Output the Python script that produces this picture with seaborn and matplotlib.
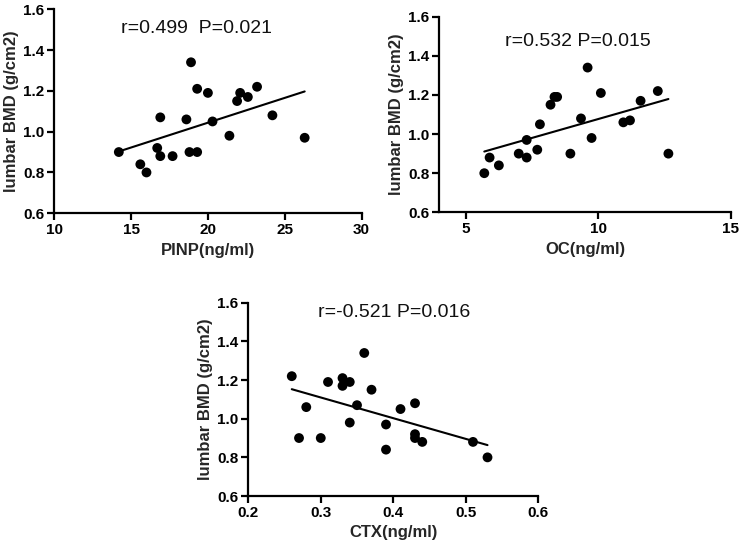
import pandas as pd
import seaborn as sns
from matplotlib import pyplot as plt

# values
pinp = [14.2, 15.6, 16.0, 16.7, 16.9, 16.9, 17.7, 18.6, 18.8, 18.9, 19.3,
        19.3, 20.0, 20.3, 21.4, 21.9, 22.1, 22.6, 23.2, 24.2, 26.3]
bmd_pinp = [0.90, 0.84, 0.80, 0.92, 0.88, 1.07, 0.88, 1.06, 0.90, 1.34, 0.90,
            1.21, 1.19, 1.05, 0.98, 1.15, 1.19, 1.17, 1.22, 1.08, 0.97]

oc = [5.7, 5.9, 6.25, 7.0, 7.3, 7.3, 7.7, 7.8, 8.2, 8.35, 8.45,
      8.95, 9.35, 9.6, 9.75, 10.1, 10.95, 11.2, 11.6, 12.25, 12.65]
bmd_oc = [0.80, 0.88, 0.84, 0.90, 0.97, 0.88, 0.92, 1.05, 1.15, 1.19, 1.19,
          0.90, 1.08, 1.34, 0.98, 1.21, 1.06, 1.07, 1.17, 1.22, 0.90]

ctx = [0.26, 0.27, 0.28, 0.30, 0.31, 0.33, 0.33, 0.34, 0.34, 0.35, 0.36,
       0.37, 0.39, 0.39, 0.41, 0.43, 0.43, 0.43, 0.44, 0.51, 0.53]
bmd_ctx = [1.22, 0.90, 1.06, 0.90, 1.19, 1.21, 1.17, 1.19, 0.98, 1.07, 1.34,
           1.15, 0.97, 0.84, 1.05, 1.08, 0.92, 0.90, 0.88, 0.88, 0.80]

labels = ['PINP(ng/ml)', 'OC(ng/ml)', 'CTX(ng/ml)']
stats = ['r=0.499  P=0.021', 'r=0.532 P=0.015', 'r=-0.521 P=0.016']
xticks = [[10, 15, 20, 25, 30], [5, 10, 15], [0.2, 0.3, 0.4, 0.5, 0.6]]
xtick_labels = [['10', '15', '20', '25', '30'], ['5', '10', '15'],
                ['0.2', '0.3', '0.4', '0.5', '0.6']]
yticks = [0.6, 0.8, 1.0, 1.2, 1.4, 1.6]
ytick_labels = ['0.6', '0.8', '1.0', '1.2', '1.4', '1.6']

sns.set_style('ticks')
plt.rcParams['font.family'] = ['Liberation Sans', 'DejaVu Sans']

fig = plt.figure(figsize=(7.42, 5.44), dpi=100)
axes = [fig.add_axes([0.0732, 0.608, 0.414, 0.375]),
        fig.add_axes([0.592, 0.6097, 0.3927, 0.3596]),
        fig.add_axes([0.3346, 0.0882, 0.3908, 0.3553])]
xlims = [(10, 30), (4, 15), (0.2, 0.6)]
text_pos = [(0.464, 0.908), (0.476, 0.872), (0.502, 0.947)]

dfs = [pd.DataFrame({'x': pinp, 'y': bmd_pinp}),
       pd.DataFrame({'x': oc, 'y': bmd_oc}),
       pd.DataFrame({'x': ctx, 'y': bmd_ctx})]

for i, ax in enumerate(axes):
    sns.regplot(data=dfs[i], x='x', y='y', ax=ax, ci=None, color='black',
                scatter_kws={'s': 50, 'alpha': 1, 'edgecolor': 'none'},
                line_kws={'linewidth': 1.5})
    ax.set_xlim(*xlims[i])
    ax.set_ylim(0.6, 1.6)
    ax.set_xticks(xticks[i])
    ax.set_xticklabels(xtick_labels[i], fontweight='bold', fontsize=11)
    ax.set_yticks(yticks)
    ax.set_yticklabels(ytick_labels, fontweight='bold', fontsize=11)
    ax.set_xlabel(labels[i], fontweight='bold', fontsize=12, labelpad=4)
    ax.set_ylabel('lumbar BMD (g/cm2)', fontweight='bold', fontsize=12, labelpad=3)
    for side in ['top', 'right']:
        ax.spines[side].set_visible(False)
    for side in ['left', 'bottom']:
        ax.spines[side].set_linewidth(1.6)
        ax.spines[side].set_color('black')
    ax.tick_params(width=1.6, length=5, colors='black', pad=2)
    ax.text(*text_pos[i], stats[i], transform=ax.transAxes, ha='center',
            va='center', fontsize=14, color='#111111')

fig.savefig('out.png', dpi=100)
